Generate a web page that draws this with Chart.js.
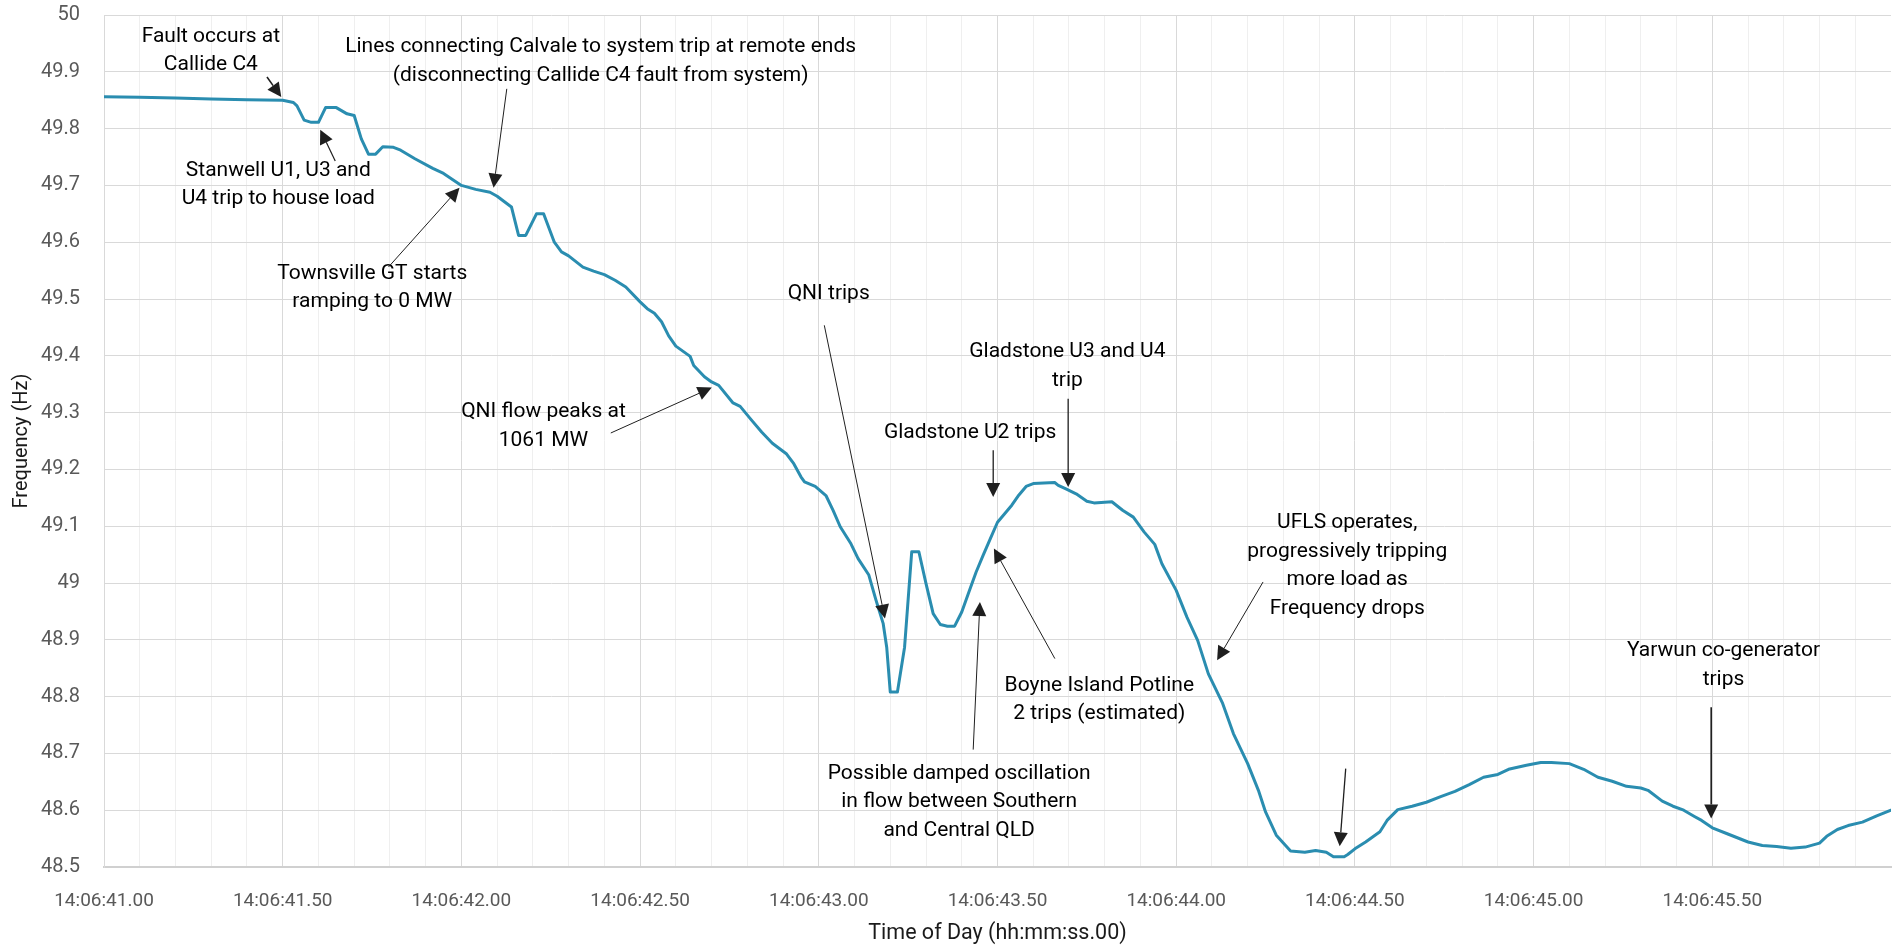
<!DOCTYPE html>
<html>
<head>
<meta charset="utf-8">
<script src="https://cdn.jsdelivr.net/npm/chart.js@4.4.1/dist/chart.umd.min.js"></script>
<style>
  html, body { margin: 0; padding: 0; background: #ffffff; }
  #wrap { width: 1896px; height: 949px; }
</style>
</head>
<body>
<div id="wrap"><canvas id="c" width="1896" height="949"></canvas></div>
<script>
// ---------------- DATA ----------------
// Time (seconds past 14:06) and frequency (Hz)
const timeSec = [
  41.00, 41.10, 41.20, 41.30, 41.40, 41.50, 41.53, 41.54, 41.56, 41.58,
  41.60, 41.62, 41.65, 41.68, 41.70, 41.72, 41.74, 41.76, 41.78, 41.81,
  41.83, 41.87, 41.92, 41.95, 42.00, 42.04, 42.08, 42.10, 42.14, 42.16,
  42.18, 42.21, 42.23, 42.26, 42.28, 42.30, 42.34, 42.37, 42.40, 42.43,
  42.46, 42.50, 42.52, 42.54, 42.56, 42.58, 42.60, 42.64, 42.65, 42.68,
  42.70, 42.72, 42.76, 42.78, 42.81, 42.84, 42.87, 42.91, 42.93, 42.95,
  42.96, 42.99, 43.02, 43.04, 43.06, 43.09, 43.11, 43.14, 43.16, 43.18,
  43.19, 43.20, 43.22, 43.24, 43.26, 43.28, 43.30, 43.32, 43.34, 43.36,
  43.38, 43.40, 43.42, 43.44, 43.46, 43.48, 43.50, 43.52, 43.54, 43.56,
  43.58, 43.60, 43.63, 43.66, 43.67, 43.69, 43.72, 43.75, 43.77, 43.82,
  43.85, 43.88, 43.91, 43.94, 43.96, 44.00, 44.03, 44.06, 44.09, 44.13,
  44.16, 44.20, 44.23, 44.25, 44.28, 44.32, 44.36, 44.39, 44.42, 44.44,
  44.47, 44.48, 44.50, 44.53, 44.57, 44.59, 44.62, 44.66, 44.70, 44.74,
  44.78, 44.82, 44.86, 44.90, 44.93, 44.98, 45.02, 45.05, 45.10, 45.14,
  45.18, 45.22, 45.26, 45.30, 45.32, 45.36, 45.39, 45.42, 45.45, 45.47,
  45.50, 45.54, 45.60, 45.64, 45.68, 45.72, 45.76, 45.80, 45.82, 45.85,
  45.88, 45.92, 45.96, 46.00
];
const freqHz = [
  49.856, 49.855, 49.854, 49.852, 49.851, 49.850, 49.846, 49.840, 49.815, 49.811,
  49.811, 49.837, 49.837, 49.826, 49.823, 49.782, 49.755, 49.755, 49.768, 49.767,
  49.762, 49.747, 49.730, 49.721, 49.700, 49.693, 49.688, 49.681, 49.662, 49.612,
  49.612, 49.650, 49.650, 49.600, 49.583, 49.576, 49.556, 49.549, 49.543, 49.533,
  49.521, 49.495, 49.483, 49.475, 49.460, 49.435, 49.417, 49.399, 49.383, 49.363,
  49.354, 49.348, 49.317, 49.311, 49.288, 49.266, 49.246, 49.227, 49.210, 49.187,
  49.178, 49.170, 49.154, 49.128, 49.099, 49.069, 49.043, 49.014, 48.970, 48.929,
  48.887, 48.808, 48.808, 48.887, 49.055, 49.055, 48.999, 48.946, 48.927, 48.924,
  48.924, 48.949, 48.984, 49.019, 49.049, 49.078, 49.107, 49.122, 49.137, 49.155,
  49.170, 49.175, 49.176, 49.177, 49.172, 49.166, 49.157, 49.144, 49.141, 49.143,
  49.128, 49.116, 49.090, 49.068, 49.034, 48.987, 48.940, 48.899, 48.840, 48.788,
  48.735, 48.682, 48.635, 48.597, 48.556, 48.528, 48.526, 48.529, 48.526, 48.518,
  48.518, 48.522, 48.532, 48.544, 48.562, 48.582, 48.601, 48.607, 48.614, 48.624,
  48.633, 48.645, 48.658, 48.663, 48.672, 48.679, 48.684, 48.684, 48.682, 48.672,
  48.658, 48.651, 48.642, 48.639, 48.635, 48.616, 48.607, 48.600, 48.589, 48.582,
  48.569, 48.559, 48.544, 48.538, 48.536, 48.533, 48.535, 48.542, 48.554, 48.566,
  48.573, 48.579, 48.590, 48.600
];
const xTickLabels = [
  '14:06:41.00', '14:06:41.50', '14:06:42.00', '14:06:42.50', '14:06:43.00',
  '14:06:43.50', '14:06:44.00', '14:06:44.50', '14:06:45.00', '14:06:45.50'
];
const xStart = 41, xEnd = 46;
const yMin = 48.5, yMax = 50;
const yAxisTitle = 'Frequency (Hz)';
const xAxisTitle = 'Time of Day (hh:mm:ss.00)';

// Annotations (anchored in data units: time, frequency)
const annotations = [
  { lines: ['Fault occurs at', 'Callide C4'], at: [41.299, 49.9625],
    arrow: [[41.456, 49.8908], [41.496, 49.8556]], w: 1.6 },
  { lines: ['Stanwell U1, U3 and', 'U4 trip to house load'], at: [41.4877, 49.7266],
    arrow: [[41.647, 49.743], [41.605, 49.798]], w: 1.2 },
  { lines: ['Lines connecting Calvale to system trip at remote ends', '(disconnecting Callide C4 fault from system)'], at: [42.3896, 49.9437],
    arrow: [[42.127, 49.870], [42.090, 49.696]], w: 1 },
  { lines: ['Townsville GT starts', 'ramping to 0 MW'], at: [41.7506, 49.5447],
    arrow: [[41.796, 49.5563], [41.9947, 49.696]], w: 1 },
  { lines: ['QNI flow peaks at', '1061 MW'], at: [42.2296, 49.3010],
    arrow: [[42.418, 49.2641], [42.7005, 49.344]], w: 1 },
  { lines: ['QNI trips'], at: [43.0277, 49.5095],
    arrow: [[43.0154, 49.4537], [43.1851, 48.9373]], w: 1 },
  { lines: ['Gladstone U3 and U4', 'trip'], at: [43.6955, 49.4067],
    arrow: [[43.6977, 49.3246], [43.6977, 49.169]], w: 1.3 },
  { lines: ['Gladstone U2 trips'], at: [43.4234, 49.2641],
    arrow: [[43.4880, 49.2336], [43.4880, 49.1514]], w: 1.3 },
  { lines: ['Boyne Island Potline', '2 trips (estimated)'], at: [43.7849, 48.8199],
    arrow: [[43.6605, 48.8669], [43.4899, 49.0606]], w: 1 },
  { lines: ['Possible damped oscillation', 'in flow between Southern', 'and Central QLD'], at: [43.3926, 48.6644],
    arrow: [[43.4320, 48.7067], [43.4508, 48.9665]], w: 1 },
  { lines: ['UFLS operates,', 'progressively tripping', 'more load as', 'Frequency drops'], at: [44.4785, 49.1056],
    arrow: [[44.2430, 49.0018], [44.1144, 48.8639]], w: 1 },
  { lines: [], at: [44.47, 48.67],
    arrow: [[44.4743, 48.6732], [44.4575, 48.5364]], w: 1.3 },
  { lines: ['Yarwun co-generator', 'trips'], at: [45.5313, 48.8806],
    arrow: [[45.4969, 48.7812], [45.4969, 48.5852]], w: 1.6 }
];

// ---------------- STYLE ----------------
const FONT = "Roboto, 'Open Sans', sans-serif";
const ANNO_SIZE = 21;
const LINE_H = 28.5;

const annotationPlugin = {
  id: 'annos',
  afterDatasetsDraw(chart) {
    const ctx = chart.ctx;
    const xs = chart.scales.x, ys = chart.scales.y;
    ctx.save();
    ctx.font = ANNO_SIZE + 'px ' + FONT;
    ctx.textAlign = 'center';
    ctx.textBaseline = 'middle';
    annotations.forEach(a => {
      const cx = xs.getPixelForValue(a.at[0]);
      const cy = ys.getPixelForValue(a.at[1]);
      ctx.fillStyle = '#000000';
      a.lines.forEach((ln, i) => ctx.fillText(ln, cx, cy + i * LINE_H));
      // arrow
      const x1 = xs.getPixelForValue(a.arrow[0][0]);
      const y1 = ys.getPixelForValue(a.arrow[0][1]);
      const x2 = xs.getPixelForValue(a.arrow[1][0]);
      const y2 = ys.getPixelForValue(a.arrow[1][1]);
      const ang = Math.atan2(y2 - y1, x2 - x1);
      const headLen = 14, headHalf = 7;
      const bx = x2 - headLen * Math.cos(ang), by = y2 - headLen * Math.sin(ang);
      ctx.strokeStyle = '#1f1f1f';
      ctx.lineWidth = a.w;
      ctx.beginPath();
      ctx.moveTo(x1, y1);
      ctx.lineTo(bx, by);
      ctx.stroke();
      ctx.fillStyle = '#1f1f1f';
      ctx.beginPath();
      ctx.moveTo(x2, y2);
      ctx.lineTo(bx + headHalf * Math.sin(ang), by - headHalf * Math.cos(ang));
      ctx.lineTo(bx - headHalf * Math.sin(ang), by + headHalf * Math.cos(ang));
      ctx.closePath();
      ctx.fill();
    });
    ctx.restore();
  }
};

function isHalf(v) {
  const k = (v - xStart) * 2;
  return Math.abs(k - Math.round(k)) < 1e-6;
}

new Chart(document.getElementById('c'), {
  type: 'line',
  data: {
    datasets: [{
      data: timeSec.map((t, i) => ({ x: t, y: freqHz[i] })),
      borderColor: '#2a8db0',
      borderWidth: 3,
      pointRadius: 0,
      tension: 0,
      fill: false,
      borderJoinStyle: 'round',
      borderCapStyle: 'round'
    }]
  },
  options: {
    responsive: false,
    animation: false,
    devicePixelRatio: 1,
    layout: { padding: { top: 15, right: 5, left: 0, bottom: 0 } },
    plugins: { legend: { display: false }, tooltip: { enabled: false } },
    scales: {
      x: {
        type: 'linear',
        min: xStart,
        max: xEnd,
        afterFit: s => { s.height = 82; s.paddingLeft = 0; s.paddingRight = 0; },
        afterBuildTicks: s => {
          const t = [];
          for (let i = 0; i <= 50; i++) t.push({ value: xStart + i * 0.1 });
          s.ticks = t;
        },
        ticks: {
          autoSkip: false,
          maxRotation: 0,
          padding: 23,
          color: '#595959',
          font: { family: FONT, size: 19 },
          callback: v => {
            if (!isHalf(v)) return '';
            const idx = Math.round((v - xStart) * 2);
            return idx < xTickLabels.length ? xTickLabels[idx] : '';
          }
        },
        grid: {
          drawTicks: false,
          color: c => {
            const v = c.tick ? c.tick.value : 0;
            if (Math.abs(v - xEnd) < 1e-6) return 'rgba(0,0,0,0)';
            return isHalf(v) ? '#d9d9d9' : '#efefef';
          },
          lineWidth: 1
        },
        border: { color: '#d0d0d0', width: 2 },
        title: {
          display: true,
          text: xAxisTitle,
          color: '#1a1a1a',
          font: { family: FONT, size: 21.5 },
          padding: { top: 0, bottom: 2 }
        }
      },
      y: {
        min: yMin,
        max: yMax,
        afterFit: s => { s.width = 104; s.paddingTop = 0; s.paddingBottom = 0; },
        ticks: {
          stepSize: 0.1,
          padding: 24,
          color: '#595959',
          font: { family: FONT, size: 20 },
          callback: v => String(Math.round(v * 10) / 10)
        },
        grid: { drawTicks: false, color: '#d9d9d9', lineWidth: 1 },
        border: { color: '#d9d9d9', width: 1 },
        title: {
          display: true,
          text: yAxisTitle,
          color: '#1a1a1a',
          font: { family: FONT, size: 20 },
          padding: { top: 10, bottom: 0 }
        }
      }
    }
  },
  plugins: [annotationPlugin]
});
</script>
</body>
</html>
